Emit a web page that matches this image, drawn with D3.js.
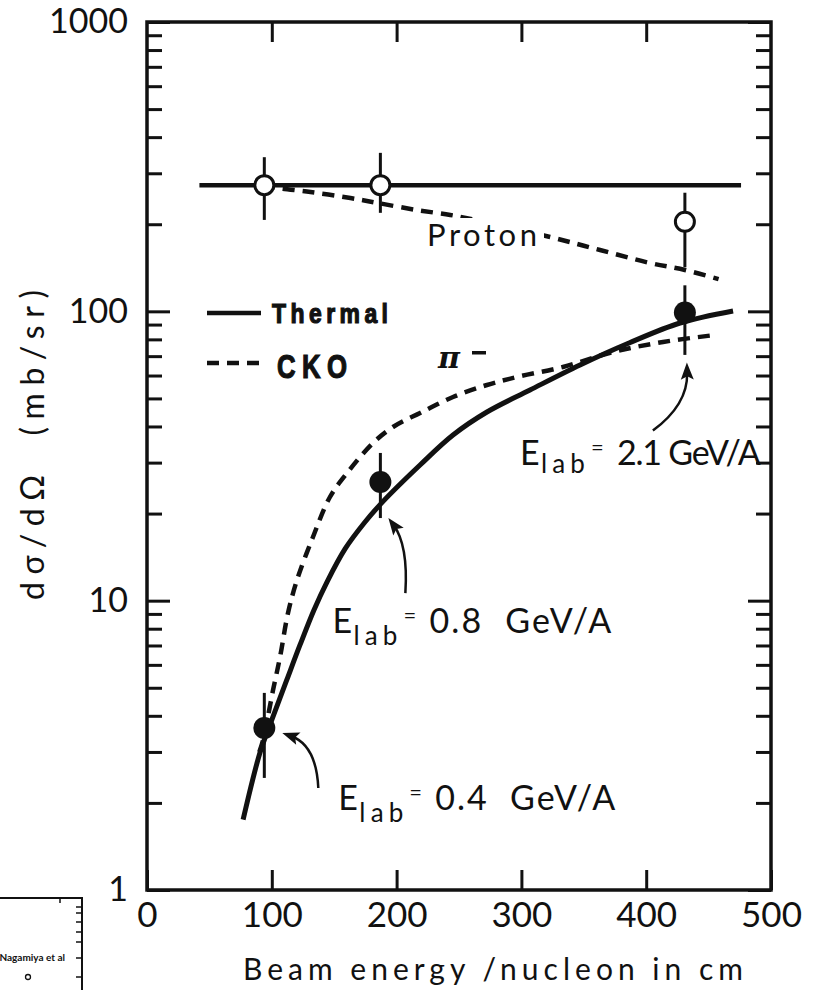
<!DOCTYPE html>
<html>
<head>
<meta charset="utf-8">
<script src="https://cdn.jsdelivr.net/npm/d3@7"></script>
<style>
  body { margin: 0; background: #fff; }
  svg { display: block; }
  text { font-family: Lato, "DejaVu Sans", sans-serif; fill: #111; }
</style>
</head>
<body>
<svg id="chart" width="833" height="990"></svg>
<script>
// ---- measured cross sections (beam energy per nucleon in cm, MeV) ----
const beamE      = [94, 187, 431];
const protonXs   = [273, 273, 204];
const protonHi   = [341, 353, 257];
const protonLo   = [207, 219, 142];
const pionXs     = [3.63, 25.7, 99];
const pionHi     = [4.8, 32.4, 123];
const pionLo     = [2.44, 19.3, 70.7];
const elabLabels = ["0.4", "0.8", "2.1"];

// ---- model curves ----
const thermalProtonE  = [42, 476];
const thermalProtonXs = [273, 273];

const ckoProtonE  = [93, 104, 131, 163, 185, 216, 243, 263, 323, 363, 403, 431, 458];
const ckoProtonXs = [273, 267, 258.5, 246.4, 236.8, 224, 215.3, 206.9, 180.7, 162.9, 146.9, 139, 129.3];

const thermalPionE  = [77, 90.5, 100, 112, 122.6, 133.8, 144.2, 158.7, 174.7, 189, 218.8, 245.2, 272.4, 306.9, 347, 386.2, 427.1, 469.6];
const thermalPionXs = [1.75, 2.98, 3.87, 5.32, 7.03, 9.29, 11.6, 15.1, 18.7, 22.0, 29.44, 37.37, 44.88, 53.47, 65.25, 77.73, 91.14, 100.3];

const ckoPionE  = [90, 93, 101, 106.6, 113, 120.2, 133, 146.6, 160.3, 181.1, 197.1, 218.8, 245.2, 272.4, 296.5, 333.3, 373.4, 413.5, 455.1];
const ckoPionXs = [3.0, 3.3, 4.91, 6.39, 9.07, 11.79, 16.6, 22.82, 27.62, 35.08, 39.83, 44.54, 50.58, 55.65, 59.31, 64.22, 72.34, 78.35, 82.83];

// ---- axis ticks ----
const xTicks      = [0, 100, 200, 300, 400, 500];
const xTopTicks   = [100, 200, 300, 400];
const yMajorTicks = [1, 10, 100, 1000];
const yMinorTicks = [];
[1, 10, 100].forEach(d => { for (let k = 2; k <= 9; k++) yMinorTicks.push(d * k); });

const svg = d3.select("#chart");
const plotL = 147, plotR = 771, plotT = 22, plotB = 890;
const x = d3.scaleLinear().domain([0, 500]).range([plotL, plotR]);
const y = d3.scaleLog().domain([1, 1000]).range([plotB, plotT]);

const ink = "#111";

// ---- axes: all ticks point inward ----
function styleAxis(g, sw) {
  g.select(".domain").remove();
  g.selectAll(".tick line").attr("stroke", ink).attr("stroke-width", sw);
}

svg.append("g").attr("transform", `translate(${plotL},0)`)
  .call(d3.axisLeft(y).tickValues(yMinorTicks).tickSize(-15).tickFormat(""))
  .call(g => styleAxis(g, 3));
svg.append("g").attr("transform", `translate(${plotL},0)`)
  .call(d3.axisLeft(y).tickValues(yMajorTicks).tickSize(-23).tickPadding(19).tickFormat(d3.format("d")))
  .call(g => styleAxis(g, 3))
  .call(g => g.selectAll("text").attr("font-size", 34).attr("fill", ink).style("font-family", "Lato, sans-serif"));

svg.append("g").attr("transform", `translate(${plotR},0)`)
  .call(d3.axisRight(y).tickValues(yMinorTicks).tickSize(-15).tickFormat(""))
  .call(g => styleAxis(g, 3));
svg.append("g").attr("transform", `translate(${plotR},0)`)
  .call(d3.axisRight(y).tickValues(yMajorTicks).tickSize(-23).tickFormat(""))
  .call(g => styleAxis(g, 3));

svg.append("g").attr("transform", `translate(0,${plotB})`)
  .call(d3.axisBottom(x).tickValues(xTicks).tickSize(-20).tickPadding(12).tickFormat(d3.format("d")))
  .call(g => styleAxis(g, 3))
  .call(g => g.selectAll("text").attr("font-size", 35).attr("fill", ink).style("font-family", "Lato, sans-serif"));

svg.append("g").attr("transform", `translate(0,${plotT})`)
  .call(d3.axisTop(x).tickValues(xTopTicks).tickSize(-20).tickFormat(""))
  .call(g => styleAxis(g, 3));

svg.append("rect")
  .attr("x", plotL).attr("y", plotT).attr("width", plotR - plotL).attr("height", plotB - plotT)
  .attr("fill", "none").attr("stroke", ink).attr("stroke-width", 3.5);

// ---- axis titles ----
svg.append("text")
  .attr("x", 493).attr("y", 980)
  .attr("text-anchor", "middle")
  .attr("font-size", 30)
  .attr("textLength", 500).attr("lengthAdjust", "spacing")
  .text("Beam energy /nucleon in cm");

svg.append("text")
  .attr("transform", "translate(44,445) rotate(-90)")
  .attr("text-anchor", "middle")
  .attr("font-size", 32)
  .style("white-space", "pre")
  .attr("textLength", 310).attr("lengthAdjust", "spacing")
  .text("dσ/dΩ  (mb/sr)");

// ---- curves ----
const line = d3.line().x(d => x(d[0])).y(d => y(d[1])).curve(d3.curveCatmullRom.alpha(0.5));
const zip = (a, b) => a.map((v, i) => [v, b[i]]);

function drawCurve(data, dashed, w) {
  svg.append("path")
    .attr("d", line(data))
    .attr("fill", "none")
    .attr("stroke", ink)
    .attr("stroke-width", w)
    .attr("stroke-linecap", "butt")
    .attr("stroke-dasharray", dashed ? "12,8" : null);
}

drawCurve(zip(thermalProtonE, thermalProtonXs), false, 4.5);
drawCurve(zip(ckoProtonE, ckoProtonXs), true, 4.5);
drawCurve(zip(thermalPionE, thermalPionXs), false, 5);
drawCurve(zip(ckoPionE, ckoPionXs), true, 4.5);

// "Proton" label sits on the dashed curve
svg.append("rect").attr("x", 420).attr("y", 218).attr("width", 124).attr("height", 34).attr("fill", "#fff");
svg.append("text")
  .attr("x", 427).attr("y", 246)
  .attr("font-size", 31)
  .attr("textLength", 110).attr("lengthAdjust", "spacing")
  .text("Proton");

// pi- label
svg.append("text").attr("x", 438).attr("y", 368)
  .attr("font-size", 30).attr("font-style", "italic").attr("font-weight", "bold")
  .style("font-family", "'DejaVu Serif', serif")
  .text("π");
svg.append("rect").attr("x", 472).attr("y", 351).attr("width", 14).attr("height", 3.5).attr("fill", ink);

// ---- error bars and points ----
const err = (hi, lo) => beamE.map((e, i) => ({ e, hi: hi[i], lo: lo[i] }));
svg.append("g").selectAll("line")
  .data(err(protonHi, protonLo)).join("line")
  .attr("x1", d => x(d.e)).attr("x2", d => x(d.e))
  .attr("y1", d => y(d.hi)).attr("y2", d => y(d.lo))
  .attr("stroke", ink).attr("stroke-width", 3);
svg.append("g").selectAll("line")
  .data(err(pionHi, pionLo)).join("line")
  .attr("x1", d => x(d.e)).attr("x2", d => x(d.e))
  .attr("y1", d => y(d.hi)).attr("y2", d => y(d.lo))
  .attr("stroke", ink).attr("stroke-width", 3);

svg.append("g").selectAll("circle")
  .data(zip(beamE, protonXs)).join("circle")
  .attr("cx", d => x(d[0])).attr("cy", d => y(d[1])).attr("r", 9.5)
  .attr("fill", "#fff").attr("stroke", ink).attr("stroke-width", 3);

svg.append("g").selectAll("circle")
  .data(zip(beamE, pionXs)).join("circle")
  .attr("cx", d => x(d[0])).attr("cy", d => y(d[1])).attr("r", 11)
  .attr("fill", ink);

// ---- legend (heavy narrow lettering) ----
svg.append("line").attr("x1", 207).attr("x2", 261).attr("y1", 313).attr("y2", 313)
  .attr("stroke", ink).attr("stroke-width", 4.5);
svg.append("line").attr("x1", 207).attr("x2", 263).attr("y1", 363).attr("y2", 363)
  .attr("stroke", ink).attr("stroke-width", 4.5).attr("stroke-dasharray", "12,8");

function narrow(tx, ty, size, sx, len, str) {
  svg.append("text")
    .attr("transform", `translate(${tx},${ty}) scale(${sx},1)`)
    .attr("font-size", size).attr("font-weight", "bold")
    .style("font-family", "'Liberation Sans', Arial, sans-serif")
    .style("white-space", "pre")
    .attr("stroke", ink).attr("stroke-width", 1.2)
    .attr("textLength", len / sx).attr("lengthAdjust", "spacing")
    .text(str);
}
narrow(272, 323, 27, 0.85, 116, "Thermal");
narrow(277, 378, 33, 0.78, 70, "C K O");

// ---- E_lab annotations with arrows (positions relative to each pion point) ----
const notes = [
  { label: elabLabels[0], text: [74, 82],    tail: [54, 60],   ctrl: [52, 17], tip: [18, 5],  len: 180, gap: "  " },
  { label: elabLabels[1], text: [-48, 151],  tail: [25, 111],  ctrl: [28, 63], tip: [8, 36],  len: 182, gap: "  " },
  { label: elabLabels[2], text: [-165, 152], tail: [-32, 118], ctrl: [3, 92],  tip: [2, 50],  len: 144, gap: " " }
];

notes.forEach((n, i) => {
  const px = x(beamE[i]), py = y(pionXs[i]);
  const bx = px + n.text[0], by = py + n.text[1];
  const sub = i === 2 ? 8 : 12;
  svg.append("text").attr("x", bx).attr("y", by).attr("font-size", 34).text("E");
  svg.append("text").attr("x", bx + 21).attr("y", by + sub).attr("font-size", 26)
    .attr("textLength", 44).attr("lengthAdjust", "spacing").text("lab");
  svg.append("text").attr("x", bx + 71).attr("y", by - 10).attr("font-size", 22).text("=");
  svg.append("text").attr("x", bx + 97).attr("y", by).attr("font-size", 34)
    .style("white-space", "pre")
    .attr("textLength", n.len).attr("lengthAdjust", "spacing")
    .text(n.label + n.gap + "GeV/A");

  const t0 = [px + n.tail[0], py + n.tail[1]];
  const c  = [px + n.ctrl[0], py + n.ctrl[1]];
  const t1 = [px + n.tip[0],  py + n.tip[1]];
  const p = d3.path();
  p.moveTo(t0[0], t0[1]);
  p.quadraticCurveTo(c[0], c[1], t1[0] - (t1[0] - c[0]) * 0.25, t1[1] - (t1[1] - c[1]) * 0.25);
  svg.append("path").attr("d", p.toString()).attr("fill", "none").attr("stroke", ink).attr("stroke-width", 2.5);

  const dx = t1[0] - c[0], dy = t1[1] - c[1], L = Math.hypot(dx, dy);
  const ux = dx / L, uy = dy / L, nx = -uy, ny = ux;
  const hl = 17, hw = 6.5;
  svg.append("path")
    .attr("d", `M${t1[0]},${t1[1]} L${t1[0] - ux * hl + nx * hw},${t1[1] - uy * hl + ny * hw} L${t1[0] - ux * hl * 0.8},${t1[1] - uy * hl * 0.8} L${t1[0] - ux * hl - nx * hw},${t1[1] - uy * hl - ny * hw} Z`)
    .attr("fill", ink);
});

// ---- fragment of the neighbouring panel in the lower-left corner ----
const frag = svg.append("g");
frag.append("path").attr("d", "M0,898 L82,898 L82,990").attr("fill", "none").attr("stroke", ink).attr("stroke-width", 2);
[907, 913, 922, 932, 942, 958, 977].forEach(v =>
  frag.append("line").attr("x1", 76).attr("x2", 82).attr("y1", v).attr("y2", v).attr("stroke", ink).attr("stroke-width", 1.5));
frag.append("line").attr("x1", 60).attr("x2", 60).attr("y1", 898).attr("y2", 903).attr("stroke", ink).attr("stroke-width", 1.5);
frag.append("text").attr("x", 65).attr("y", 961).attr("text-anchor", "end")
  .attr("font-size", 10).attr("font-weight", "bold").text("Nagamiya et al");
frag.append("circle").attr("cx", 28).attr("cy", 977).attr("r", 2.5).attr("fill", "none").attr("stroke", ink).attr("stroke-width", 1.3);
</script>
</body>
</html>
